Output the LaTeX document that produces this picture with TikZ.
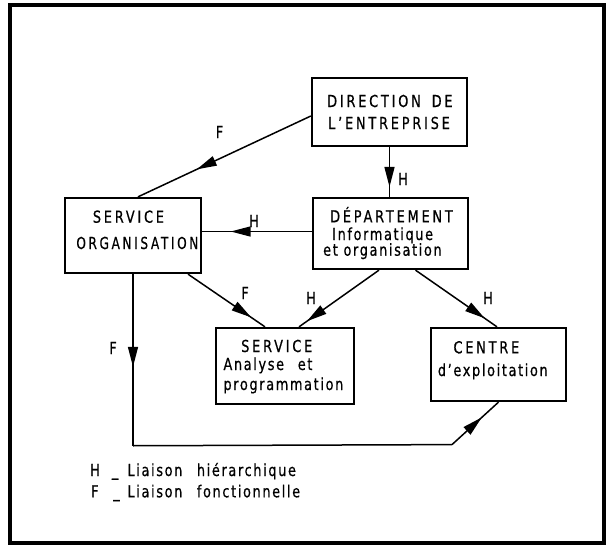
\documentclass[tikz,border=0pt]{standalone}
\usepackage{fontspec}
\setmainfont{DejaVu Sans}[FakeStretch=0.78, LetterSpace=10, FakeBold=0.6]
\newfontfamily\capsfont{DejaVu Sans}[FakeStretch=0.78, LetterSpace=17, FakeBold=0.6]
\usetikzlibrary{arrows.meta,decorations.markings,calc}
\begin{document}
\begin{tikzpicture}[x=1pt,y=-1pt,
  box/.style={draw, line width=2.3pt, inner sep=0pt},
  txt/.style={anchor=base west, inner sep=0pt, font=\fontsize{16.5}{16.5}\selectfont},
  captxt/.style={txt, font=\capsfont\fontsize{16.5}{16.5}\selectfont},
  lbl/.style={inner sep=0pt, font=\fontsize{16.5}{16.5}\selectfont},
  link/.style={line width=1.5pt},
  mid/.style={postaction={decorate}, decoration={markings,
    mark=at position #1 with {\arrow{Triangle[length=20pt,width=10pt]}}}}]
\useasboundingbox (0,0) rectangle (606,546);
% outer frame
\draw[line width=4pt] (9.5,4.5) rectangle (604,543);

% boxes
\node[box, minimum width=155pt, minimum height=68pt] (dir) at (389.5,112) {};
\node[box, minimum width=155pt, minimum height=71pt] (dep) at (390.5,233.5) {};
\node[box, minimum width=136pt, minimum height=75pt] (so)  at (133,235.5) {};
\node[box, minimum width=138pt, minimum height=76pt] (sa)  at (285,366) {};
\node[box, minimum width=135pt, minimum height=73pt] (ce)  at (498.5,364.5) {};

% box texts
\node[captxt] (dir1) at (327,107) {DIRECTION\hspace{4pt} DE};
\node[captxt] (dir2) at (328,129) {L’ENTREPRISE};
\node[captxt] (dep1) at (330,222.3) {DÉPARTEMENT};
\node[txt] (dep2) at (332,240) {Informatique};
\node[txt] (dep3) at (323,255.7) {et organisation};
\node[captxt] (so1) at (92.7,222.7) {SERVICE};
\node[captxt] (so2) at (76.2,249) {\scalebox{0.94}[1]{ORGANISATION}};
\node[captxt] (sa1) at (241,352) {SERVICE};
\node[txt] (sa2) at (223.3,370) {Analyse\hspace{8pt} et};
\node[txt] (sa3) at (223.3,390) {programmation};
\node[captxt] (ce1) at (453.3,353.3) {CENTRE};
\node[txt] (ce2) at (437.7,376) {d’exploitation};

% connectors
\coordinate (depw) at ($(dep.west)+(0,-2)$);
\coordinate (bl) at ($(so.south)+(0,171.6)$);
\coordinate (br) at (452,444.6);
\draw[link, mid=0.66] ($(dir.west)+(0,4)$) -- ($(so.north)+(5,0)$);
\draw[link, mid=0.8] (dir.south) -- (dir.south |- dep.north);
\draw[link, mid=0.74] (depw) -- (depw -| so.east);
\draw[link, mid=0.82] ($(so.south)+(55,0)$) -- ($(sa.north)+(-20,0)$);
\draw[link, mid=0.9] ($(dep.south)+(-11.5,0)$) -- ($(sa.north)+(14,0)$);
\draw[link, mid=0.85] ($(dep.south)+(25,0)$) -- ($(ce.north)+(-1.5,0)$);
\draw[link, mid=0.54] (so.south) -- (bl);
\draw[link] (bl) -- (br);
\draw[link, mid=0.64] (br) -- (ce.south);

% link labels
\node[lbl] (l1) at (219.5,132) {F};
\node[lbl] (l2) at (403,179) {H};
\node[lbl] (l3) at (254,221) {H};
\node[lbl] (l4) at (245,293) {F};
\node[lbl] (l5) at (311,298) {H};
\node[lbl] (l6) at (488,298) {H};
\node[lbl] (l7) at (113,348) {F};

% legend
\node[txt] (lh1) at (90,476) {H};
\node[txt] (lh2) at (111.7,476) {\_};
\node[txt] (lh3) at (127.3,476) {Liaison};
\node[txt] (lh4) at (196.7,476) {hiérarchique};
\node[txt] (lf1) at (91,497.3) {F};
\node[txt] (lf2) at (113,497.3) {\_};
\node[txt] (lf3) at (127.3,497.3) {Liaison};
\node[txt] (lf4) at (196.7,497.3) {fonctionnelle};
\end{tikzpicture}
\end{document}
